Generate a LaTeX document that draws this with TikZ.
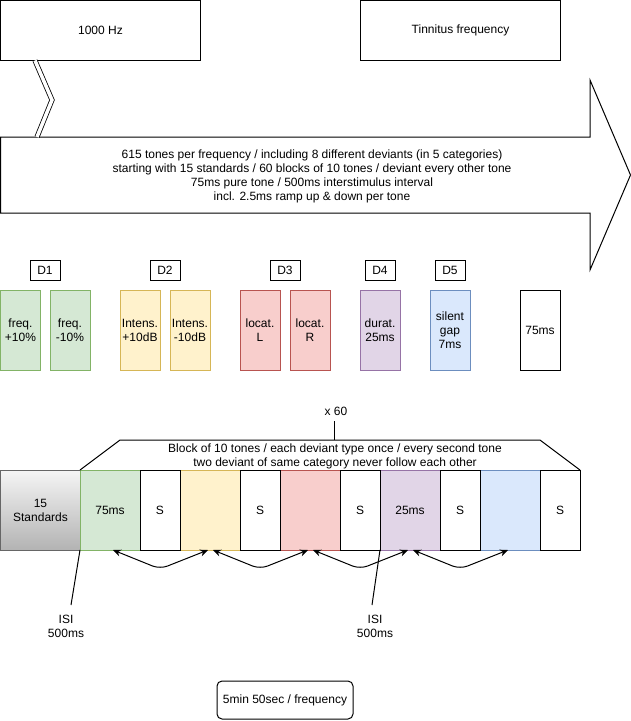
\documentclass[tikz,border=0pt]{standalone}
\usepackage{fontspec}
\setmainfont{Liberation Sans}
\usetikzlibrary{arrows.meta}
\definecolor{gfill}{HTML}{D5E8D4}\definecolor{gline}{HTML}{82B366}
\definecolor{yfill}{HTML}{FFF2CC}\definecolor{yline}{HTML}{D6B656}
\definecolor{rfill}{HTML}{F8CECC}\definecolor{rline}{HTML}{B85450}
\definecolor{pfill}{HTML}{E1D5E7}\definecolor{pline}{HTML}{9673A6}
\definecolor{bfill}{HTML}{DAE8FC}\definecolor{bline}{HTML}{6C8EBF}
\definecolor{stop}{HTML}{F5F5F5}\definecolor{sbot}{HTML}{B3B3B3}\definecolor{sline}{HTML}{666666}
\begin{document}
\begin{tikzpicture}[x=1pt,y=-1pt,line width=1pt,font=\fontsize{12}{14}\selectfont,
  box/.style={draw,inner sep=0pt,outer sep=0pt,align=center},
  dlab/.style={box,minimum width=30,minimum height=20},
  dev/.style={box,minimum width=40,minimum height=80},
  tone/.style={box,minimum width=60,minimum height=80},
  stdbox/.style={box,minimum width=40,minimum height=80,fill=white},
  green/.style={fill=gfill,draw=gline},
  yellow/.style={fill=yfill,draw=yline},
  red/.style={fill=rfill,draw=rline},
  purple/.style={fill=pfill,draw=pline},
  blue/.style={fill=bfill,draw=bline},
  dbl/.style={{Stealth[length=8,width=7]}-{Stealth[length=8,width=7]},rounded corners=8},
  plain/.style={align=center,inner sep=0pt}]
\useasboundingbox (0,0) rectangle (631,721);

% top boxes
\node[box,minimum width=200,minimum height=60] (hz) at (100.5,30.5) {1000 Hz};
\node[box,minimum width=200,minimum height=60] (tf) at (460.5,30.5) {Tinnitus frequency};

% big arrow
\draw (0.5,137) -- (590,137) -- (590,80) -- (630.5,175) -- (590,270) -- (590,213) -- (0.5,213) -- cycle;
\node[plain] (arr) at (312,176) {615 tones per frequency / including 8 different deviants (in 5 categories)\\
starting with 15 standards / 60 blocks of 10 tones / deviant every other tone\\
75ms pure tone / 500ms interstimulus interval\\
incl. 2.5ms ramp up \& down per tone};

% link
\coordinate (lk1) at (35,60.5);
\coordinate (lk2) at (52,100);
\coordinate (lk3) at (37,137);
\draw[double,double distance=3.5pt,line width=0.8pt] (lk1) -- (lk2) -- (lk3);

% D labels
\node[dlab] (d1) at (45,270) {D1};
\node[dlab] (d2) at (165,270) {D2};
\node[dlab] (d3) at (285,270) {D3};
\node[dlab] (d4) at (380,270) {D4};
\node[dlab] (d5) at (450,270) {D5};

% deviant boxes
\node[dev,green] (f1) at (20.5,330) {freq.\\+10\%};
\node[dev,green] (f2) at (70,330) {freq.\\-10\%};
\node[dev,yellow] (i1) at (140,330) {Intens.\\+10dB};
\node[dev,yellow] (i2) at (190,330) {Intens.\\-10dB};
\node[dev,red] (l1) at (260,330) {locat.\\L};
\node[dev,red] (l2) at (310,330) {locat.\\R};
\node[dev,purple] (du) at (380,330) {durat.\\25ms};
\node[dev,blue] (sg) at (450,330) {silent\\gap\\7ms};
\node[dev] (t75) at (540,330) {75ms};

% x 60 and block
\node[plain] (x60) at (336,411) {x 60};
\coordinate (x60b) at (334,440);
\draw (334,421) -- (x60b);
\node[plain] (blk) at (335,456) {Block of 10 tones / each deviant type once / every second tone\\two deviant of same category never follow each other};

% tone row
\node[box,minimum width=80,minimum height=80,top color=stop,bottom color=sbot,draw=sline] (std) at (40.5,510) {15\\Standards};
\node[tone,green] (r1) at (110,510) {75ms};
\node[tone,yellow] (r2) at (210,510) {};
\node[tone,red] (r3) at (310,510) {};
\node[tone,purple] (r4) at (410,510) {25ms};
\node[tone,blue] (r5) at (510,510) {};
\node[stdbox] (s1) at (160,510) {S};
\node[stdbox] (s2) at (260,510) {S};
\node[stdbox] (s3) at (360,510) {S};
\node[stdbox] (s4) at (460,510) {S};
\node[stdbox] (s5) at (560,510) {S};

\draw (r1.north west) -- (120,440) -- (x60b) -- (540,440) -- (s5.north east);

% curved double arrows
\draw[dbl] ([xshift=3]r1.south) -- (160,569) -- ([xshift=-2]r2.south);
\draw[dbl] ([xshift=3]r2.south) -- (260,569) -- ([xshift=-2]r3.south);
\draw[dbl] ([xshift=3]r3.south) -- (360,569) -- ([xshift=-2]r4.south);
\draw[dbl] ([xshift=3]r4.south) -- (460,569) -- ([xshift=-2]r5.south);

% ISI labels
\node[plain] (isi1) at (66,626) {ISI\\500ms};
\node[plain] (isi2) at (375,626) {ISI\\500ms};
\coordinate (c1) at (71,605);
\coordinate (c2) at (372,605);
\draw (r1.south west) -- (c1);
\draw (r4.south west) -- (c2);

% total
\node[box,rounded corners=5,minimum width=136,minimum height=38] (tot) at (285,700) {5min 50sec / frequency};
\end{tikzpicture}
\end{document}
